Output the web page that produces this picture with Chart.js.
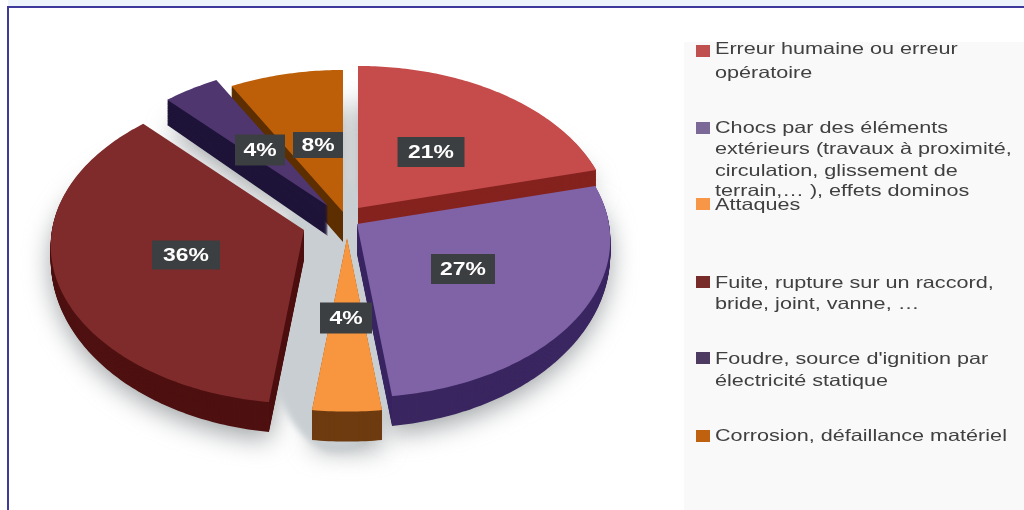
<!DOCTYPE html>
<html lang="fr">
<head>
<meta charset="utf-8">
<title>Causes des incidents</title>
<style>
html,body{margin:0;padding:0;background:#fff}
canvas{display:block}
</style>
<script src="https://cdn.jsdelivr.net/npm/chart.js@4/dist/chart.umd.min.js"></script>
</head>
<body>
<canvas id="pie" width="1024" height="510" style="width:1024px;height:510px"></canvas>
<script>
// Causes and their shares, in percent
const categories = [
  ["Erreur humaine ou erreur", "opératoire"],
  ["Chocs par des éléments", "extérieurs (travaux à proximité,", "circulation, glissement de", "terrain,… ), effets dominos"],
  ["Attaques"],
  ["Fuite, rupture sur un raccord,", "bride, joint, vanne, …"],
  ["Foudre, source d'ignition par", "électricité statique"],
  ["Corrosion, défaillance matériel"]
];
const shares = [21, 27, 4, 36, 4, 8];

// Slice styling
const topColors = ["#c54c4b", "#8063a6", "#f8953f", "#7f2b2b", "#50366f", "#bd5f08"];
const sideColors = ["#85231f", "#3a2660", "#6e3b10", "#4e1010", "#1e1338", "#5c2e00"];
const swatchColors = ["#c0504d", "#7b6a98", "#f79646", "#772c2a", "#4d3b62", "#c0610f"];
const explode = [[13, -47], [12, -31], [2, -17], [-41, -25], [-17, -49], [-2, -43]];
const paintOrder = [2, 5, 4, 3, 0, 1];
const valueBoxes = [[431, 152, 67, 30], [463, 269, 64, 30], [346, 318, 52, 31], [186, 255, 68, 29], [260, 150, 50, 31], [318, 145, 50, 26]];

// Legend layout: swatch centre line and the centre line of each text row
const legendRows = [[49, 73], [128, 149, 171, 191], [205], [283, 304], [359, 381], [436]];
const swatchRows = [51, 128, 204, 282, 358, 436];

// Tilt of the pie plane
const squash = 0.62, perspective = 0.1, depth = 30, textStretch = 1.31;

function project(radius, unit, theta) {
  const X = radius * Math.sin(theta), Y = -radius * Math.cos(theta);
  const w = 1 - perspective * Y / unit;
  return [X / w, squash * Y / w];
}

// Outline of one slice; lift runs from 0 (top face) to depth (bottom rim),
// and the rim thins out toward the left and right sides of the pie
function tracePath(ctx, arc, index, lift) {
  const ox = arc.x + explode[index][0], oy = arc.y + explode[index][1];
  const from = arc.startAngle + Math.PI / 2, to = arc.endAngle + Math.PI / 2;
  const steps = Math.max(4, Math.ceil((to - from) / 0.015));
  ctx.beginPath();
  ctx.moveTo(ox, oy + lift);
  for (let s = 0; s <= steps; s++) {
    const theta = from + (to - from) * s / steps;
    const p = project(arc.outerRadius, arc.outerRadius, theta);
    const rim = lift * (0.4 + 0.6 * Math.abs(Math.cos(theta)));
    ctx.lineTo(ox + p[0], oy + p[1] + rim);
  }
  ctx.closePath();
}

function stretchedText(ctx, text, x, y, align) {
  ctx.save();
  ctx.translate(x, y);
  ctx.scale(textStretch, 1);
  ctx.textAlign = align;
  ctx.textBaseline = "middle";
  ctx.fillText(text, 0, 0);
  ctx.restore();
}

const tiltedPie = {
  id: "tiltedPie",
  beforeDraw(chart) {
    const ctx = chart.ctx;
    ctx.save();
    ctx.fillStyle = "#ffffff";
    ctx.fillRect(0, 0, 1024, 510);
    ctx.fillStyle = "#edf4fb";
    ctx.fillRect(8, 0, 1016, 6);
    ctx.fillStyle = "#f9f9f9";
    ctx.fillRect(684, 42, 340, 468);
    ctx.fillStyle = "#3d3a9c";
    ctx.fillRect(7, 6, 1017, 2);
    ctx.fillRect(7, 6, 2, 504);
    ctx.restore();
  },
  beforeDatasetDraw(chart, args) {
    const ctx = chart.ctx, arcs = chart.getDatasetMeta(args.index).data;

    // Soft shadow under the slices and in the gaps between them
    ctx.save();
    ctx.filter = "blur(13px)";
    ctx.fillStyle = "rgba(135,140,143,0.8)";
    arcs.forEach((arc, i) => { tracePath(ctx, arc, i, depth + 8); ctx.fill(); });
    ctx.restore();
    ctx.save();
    ctx.filter = "blur(3px)";
    ctx.fillStyle = "#c8ced1";
    ctx.beginPath();
    ctx.ellipse(arcs[0].x - 8, arcs[0].y + 62, 72, 134, 0, 0, Math.PI * 2);
    ctx.fill();
    ctx.restore();

    // Extruded flanks first, then the top face, painted back to front
    paintOrder.forEach(i => {
      const arc = arcs[i];
      ctx.fillStyle = sideColors[i];
      for (let d = depth; d > 0; d--) { tracePath(ctx, arc, i, d); ctx.fill(); }
      ctx.fillStyle = topColors[i];
      tracePath(ctx, arc, i, 0);
      ctx.fill();
    });

    // Value labels
    ctx.save();
    shares.forEach((v, i) => {
      const [cx, cy, w, h] = valueBoxes[i];
      ctx.fillStyle = "#3c3f41";
      ctx.fillRect(cx - w / 2, cy - h / 2, w, h);
      ctx.fillStyle = "#ffffff";
      ctx.font = "bold 17.5px 'Liberation Sans', Arial, sans-serif";
      stretchedText(ctx, v + "%", cx, cy + 1, "center");
    });
    ctx.restore();

    // Legend
    ctx.save();
    chart.data.labels.forEach((lines, i) => {
      ctx.fillStyle = swatchColors[i];
      ctx.fillRect(696, swatchRows[i] - 6, 14, 12);
      ctx.fillStyle = "#404040";
      ctx.font = "16.5px 'Liberation Sans', Arial, sans-serif";
      lines.forEach((line, j) => stretchedText(ctx, line, 715, legendRows[i][j], "left"));
    });
    ctx.restore();
    return false;
  }
};

new Chart(document.getElementById("pie"), {
  type: "pie",
  data: {
    labels: categories,
    datasets: [{ data: shares, backgroundColor: topColors, borderWidth: 0 }]
  },
  options: {
    responsive: false,
    animation: false,
    layout: { padding: { top: 3, bottom: 3, left: 0, right: 334 } },
    plugins: { legend: { display: false }, tooltip: { enabled: false } }
  },
  plugins: [tiltedPie]
});
</script>
</body>
</html>
